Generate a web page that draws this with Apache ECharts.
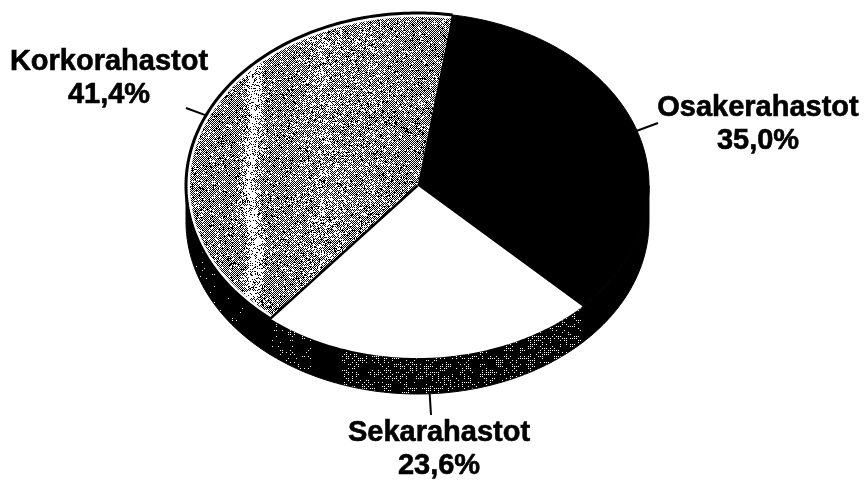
<!DOCTYPE html>
<html>
<head>
<meta charset="utf-8">
<style>
  html, body { margin: 0; padding: 0; background: #fff; }
  #chart { width: 867px; height: 480px; }
</style>
<script src="https://cdn.jsdelivr.net/npm/echarts@6/dist/echarts.min.js"></script>
</head>
<body>
<div id="chart"></div>
<script>
var categories = ["Osakerahastot", "Sekarahastot", "Korkorahastot"];
var shares = [35.0, 23.6, 41.4];
var shareLabels = ["35,0%", "23,6%", "41,4%"];

// ellipse of the tilted pie
var CX = 417.5, CY = 185.5, RX = 231.5, RY = 172.5, DEPTH = 36, START = 8.5;
// leader line end and label centre, per category
var leaderEnds = [[658, 123], [431, 415], [186, 108]];
var labelCentres = [[758, 124], [439, 449], [109, 78]];
var leaderStartDepth = [0, DEPTH, 0];

// stable pixel noise for the scanned look
function noise(x, y) {
  var h = (x * 374761393 + y * 668265263) | 0;
  h = Math.imul(h ^ (h >>> 13), 1274126177);
  h = h ^ (h >>> 16);
  return (h >>> 0) / 4294967296;
}

function makeTexture(pixel) {
  var c = document.createElement("canvas");
  c.width = 867; c.height = 480;
  var g = c.getContext("2d");
  var img = g.createImageData(867, 480);
  for (var y = 0; y < 480; y++) {
    for (var x = 0; x < 867; x++) {
      var v = pixel(x, y) ? 255 : 0, i = (y * 867 + x) * 4;
      img.data[i] = img.data[i + 1] = img.data[i + 2] = v;
      img.data[i + 3] = 255;
    }
  }
  g.putImageData(img, 0, 0);
  return c;
}

function bump(x, at, w) {
  return Math.exp(-Math.pow((x - at) / w, 2));
}

var greyTexture = makeTexture(function (x, y) {
  var wobble = Math.sin(y / 23) * 3;
  var lift = 0.1 + 0.65 * bump(x + wobble, 252, 8) + 0.2 * bump(x, 325, 22) + 0.12 * bump(x, 370, 16);
  if ((x + y) % 2 === 0) return noise(x, y) < 0.93;
  return noise(x, y) < lift;
});

var sideTexture = makeTexture(function (x, y) {
  var d = 0;
  if (x >= 583) return false;
  if (x > 340) d = 0.5;
  else if (x > 270 && x < 312) d = 0.22;
  else if (x > 190 && x < 245) d = 0.05;
  if (x % 2 || y % 2) return false;
  // dots come in clumps
  var clump = noise(x >> 3, y >> 2) < 0.6 ? 1 : 0.2;
  return noise(x, y) < d * clump;
});

// cumulative sweep of each slice, clockwise from START
var sweeps = [];
shares.reduce(function (from, v) {
  var to = from + v / 100 * 360;
  sweeps.push([from, to]);
  return to;
}, START);

function onEllipse(deg, rx, ry, dy) {
  var a = deg * Math.PI / 180;
  return [CX + rx * Math.sin(a), CY + (dy || 0) - ry * Math.cos(a)];
}

function arcPoints(from, to, rx, ry, dy) {
  var pts = [], n = Math.max(2, Math.ceil(Math.abs(to - from)));
  for (var i = 0; i <= n; i++) pts.push(onEllipse(from + (to - from) * i / n, rx, ry, dy));
  return pts;
}

function renderSide(params, api) {
  var i = params.dataIndex;
  var from = Math.max(sweeps[i][0], 90), to = Math.min(sweeps[i][1], 270);
  if (api.value(0) <= 0 || to <= from) return { type: "group", children: [] };
  var pts = arcPoints(from, to, RX, RY, 0).concat(arcPoints(to, from, RX, RY, DEPTH));
  return {
    type: "polygon",
    shape: { points: pts },
    style: { fill: { image: sideTexture, repeat: "no-repeat" }, stroke: "#000", lineWidth: 1 }
  };
}

function renderFace(params, api) {
  var i = params.dataIndex, from = sweeps[i][0], to = sweeps[i][1];
  var name = api.value(1);
  var children = [];
  var wedge = [[CX, CY]].concat(arcPoints(from, to, RX, RY));
  if (name === "Osakerahastot") {
    children.push({ type: "polygon", shape: { points: wedge }, style: { fill: "#000", stroke: "#000", lineWidth: 1 } });
  } else if (name === "Sekarahastot") {
    children.push({ type: "polygon", shape: { points: wedge }, style: { fill: "#fff" } });
  } else {
    children.push({ type: "polygon", shape: { points: wedge }, style: { fill: "#fff" } });
    children.push({
      type: "polygon",
      shape: { points: [[CX, CY]].concat(arcPoints(from, to, RX - 4, RY - 4)) },
      style: { fill: { image: greyTexture, repeat: "no-repeat" } }
    });
    children.push({
      type: "polyline",
      shape: { points: arcPoints(from, to + 0.2, RX, RY) },
      style: { fill: null, stroke: "#000", lineWidth: 3 }
    });
    children.push({
      type: "line",
      shape: {
        x1: CX, y1: CY,
        x2: onEllipse(from, RX, RY)[0], y2: onEllipse(from, RX, RY)[1]
      },
      style: { stroke: "#000", lineWidth: 2.5 }
    });
  }
  var start = onEllipse((from + to) / 2, RX, RY, leaderStartDepth[i]);
  children.push({
    type: "line",
    shape: { x1: start[0], y1: start[1], x2: leaderEnds[i][0], y2: leaderEnds[i][1] },
    style: { stroke: "#000", lineWidth: 2 }
  });
  children.push({
    type: "text",
    style: {
      text: name + "\n" + api.value(2),
      x: labelCentres[i][0], y: labelCentres[i][1],
      align: "center", verticalAlign: "middle",
      font: "bold 29px 'Liberation Sans', Arial, sans-serif",
      lineHeight: 33,
      fill: "#000", stroke: "#000", lineWidth: 0.6
    }
  });
  return { type: "group", children: children };
}

var rows = categories.map(function (c, i) { return [shares[i], c, shareLabels[i]]; });

var chart = echarts.init(document.getElementById("chart"), null, { renderer: "canvas" });
chart.setOption({
  backgroundColor: "#fff",
  animation: false,
  series: [
    { type: "custom", coordinateSystem: "none", silent: true, z: 1, data: rows, renderItem: renderSide },
    { type: "custom", coordinateSystem: "none", silent: true, z: 2, data: rows, renderItem: renderFace }
  ]
});
</script>
</body>
</html>
